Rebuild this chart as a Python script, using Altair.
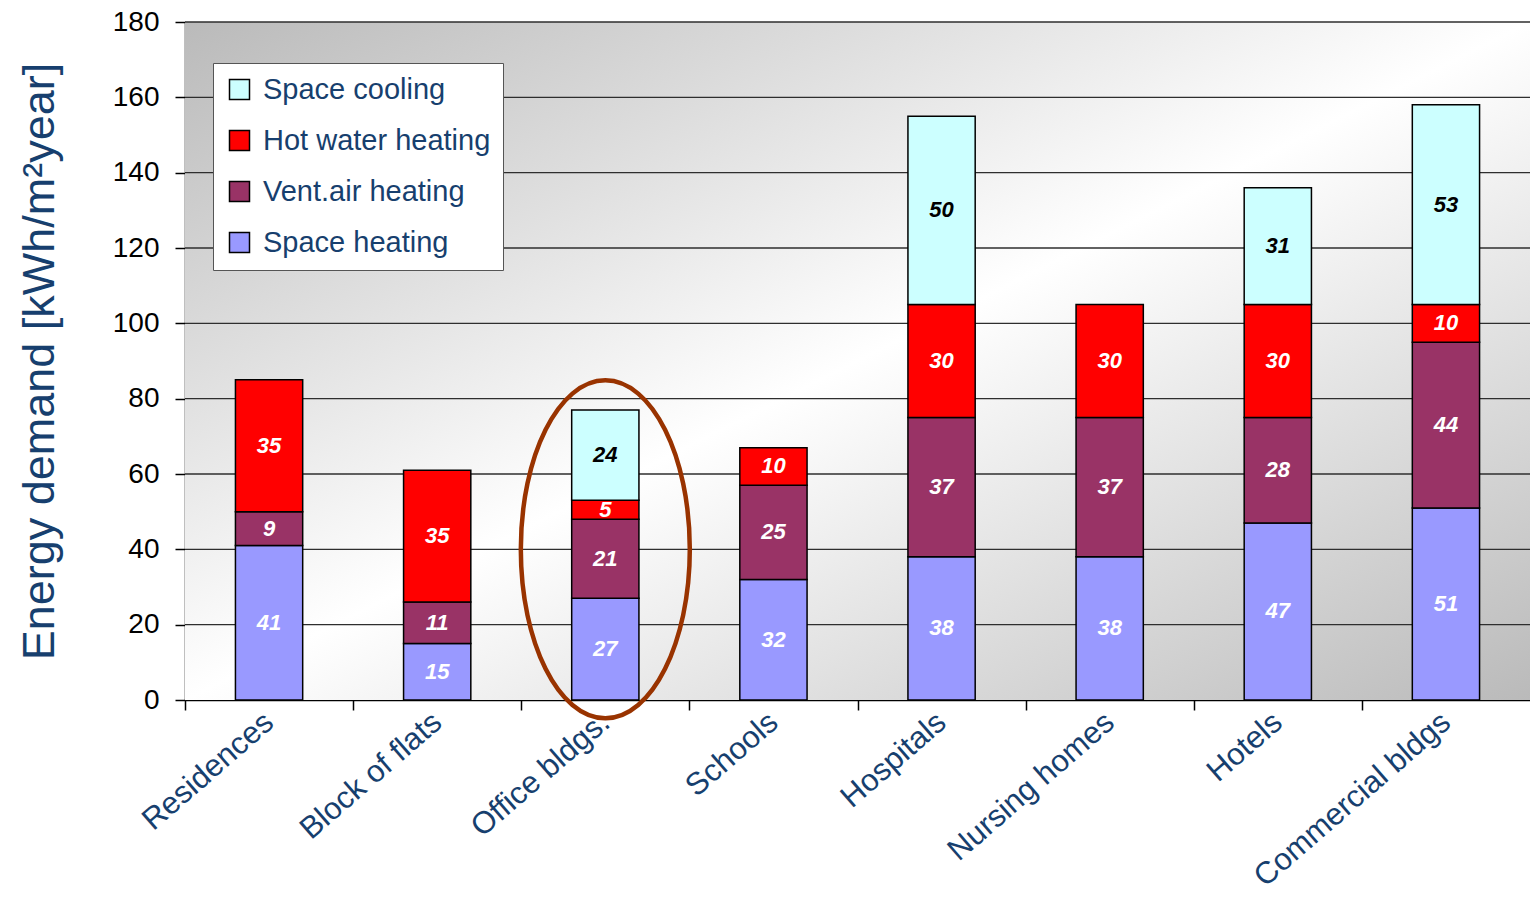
import altair as alt
import pandas as pd

categories = ["Residences", "Block of flats", "Office bldgs.", "Schools",
              "Hospitals", "Nursing homes", "Hotels", "Commercial bldgs"]
space_heating = [41, 15, 27, 32, 38, 38, 47, 51]
vent_air_heating = [9, 11, 21, 25, 37, 37, 28, 44]
hot_water_heating = [35, 35, 5, 10, 30, 30, 30, 10]
space_cooling = [0, 0, 24, 0, 50, 0, 31, 53]

series_names = ["Space cooling", "Hot water heating", "Vent.air heating", "Space heating"]
series_colors = ["#ccffff", "#ff0000", "#993366", "#9999ff"]
stack_order = {"Space heating": 0, "Vent.air heating": 1, "Hot water heating": 2, "Space cooling": 3}

y_ticks = [0, 20, 40, 60, 80, 100, 120, 140, 160, 180]
grid_values = [20, 40, 60, 80, 100, 120, 140, 160, 180]

highlight_category = "Office bldgs."
highlight_center = 40

W, H = 1345, 678
NAVY = "#173f6e"
FONT = "Liberation Sans"
Y_TITLE = "Energy demand [kWh/m²year]"

rows = []
for name, vals in [("Space heating", space_heating), ("Vent.air heating", vent_air_heating),
                   ("Hot water heating", hot_water_heating), ("Space cooling", space_cooling)]:
    for c, v in zip(categories, vals):
        if v > 0:
            rows.append({"category": c, "series": name, "value": v, "ord": stack_order[name]})
df = pd.DataFrame(rows)

x_scale = alt.Scale(domain=categories, paddingInner=0.6, paddingOuter=0.3)
y_scale = alt.Scale(domain=[0, 180], nice=False)

x_axis = alt.Axis(labelAngle=-41, labelAlign="right", labelBaseline="middle",
                  labelFontSize=31, labelFont=FONT, labelColor=NAVY, labelLimit=500,
                  labelPadding=8, tickOffset=-W / 16, labelOffset=W / 16,
                  tickSize=10, tickColor="black", domainColor="black",
                  domainWidth=1.5, tickWidth=1.5, grid=False)
y_axis = alt.Axis(values=y_ticks, grid=False, labelFontSize=28, labelFont=FONT,
                  labelColor="black", labelPadding=16, tickSize=10,
                  tickColor="black", domainColor="black", domainWidth=1.5,
                  tickWidth=1.5, titleFontSize=45, titleFont=FONT,
                  titleFontWeight="normal", titleColor=NAVY, titlePadding=50)


def X(field):
    return alt.X(field, scale=x_scale, sort=categories, title=None, axis=x_axis)


def Y(field):
    return alt.Y(field, scale=y_scale, title=Y_TITLE, axis=y_axis)


background = alt.Chart(pd.DataFrame({"a": [0]})).mark_rect(
    color=alt.Gradient(
        gradient="linear",
        x1=0, y1=0, x2=1, y2=1,
        stops=[alt.GradientStop(color="#bababa", offset=0),
               alt.GradientStop(color="#ffffff", offset=0.5),
               alt.GradientStop(color="#bababa", offset=1)],
    )
).encode(x=alt.value(0), x2=alt.value(W), y=alt.value(0), y2=alt.value(H))

grid = alt.Chart(pd.DataFrame({"v": grid_values})).mark_rule(
    color="#2e2e2e", strokeWidth=1.4
).encode(
    y=Y("v:Q"),
    x=alt.value(0), x2=alt.value(W),
)

base = alt.Chart(df).transform_stack(
    stack="value", groupby=["category"], as_=["y0", "y1"],
    sort=[alt.SortField("ord", order="ascending")],
).transform_calculate(mid="(datum.y0 + datum.y1) / 2")

bars = base.mark_bar(stroke="black", strokeWidth=1.5, opacity=1).encode(
    x=X("category:N"),
    y=Y("y0:Q"),
    y2="y1:Q",
    color=alt.Color("series:N", scale=alt.Scale(domain=series_names, range=series_colors),
                    legend=alt.Legend(title=None, orient="none", legendX=28, legendY=41,
                                      fillColor="white", strokeColor="#555555",
                                      padding=12, rowPadding=21, labelFontSize=29,
                                      labelFont=FONT, labelColor=NAVY, symbolType="square",
                                      symbolSize=400, symbolStrokeColor="black",
                                      symbolStrokeWidth=1.5, symbolOpacity=1,
                                      labelOffset=9, labelLimit=400)),
)

labels = base.mark_text(font=FONT, fontSize=22, fontWeight="bold", fontStyle="italic",
                        baseline="middle", align="center").encode(
    x=X("category:N"),
    y=Y("mid:Q"),
    text=alt.Text("value:Q"),
    color=alt.condition("datum.series == 'Space cooling'", alt.value("black"), alt.value("white")),
)

ellipse = alt.Chart(pd.DataFrame({"category": [highlight_category], "c": [highlight_center]})).mark_point(
    shape="M 0 -1 A 0.5 1 0 1 1 0 1 A 0.5 1 0 1 1 0 -1 Z",
    filled=False, stroke="#993300", strokeWidth=4.5, size=338 ** 2, opacity=1,
).encode(
    x=X("category:N"),
    y=Y("c:Q"),
)

chart = alt.layer(background, grid, bars, labels, ellipse).properties(
    width=W, height=H,
    autosize=alt.AutoSizeParams(type="none"),
    padding={"left": 185, "top": 22, "right": 0, "bottom": 203},
    background="white",
).configure_view(stroke=None)

chart.save("out.html", embed_options={"renderer": "svg", "actions": False})
